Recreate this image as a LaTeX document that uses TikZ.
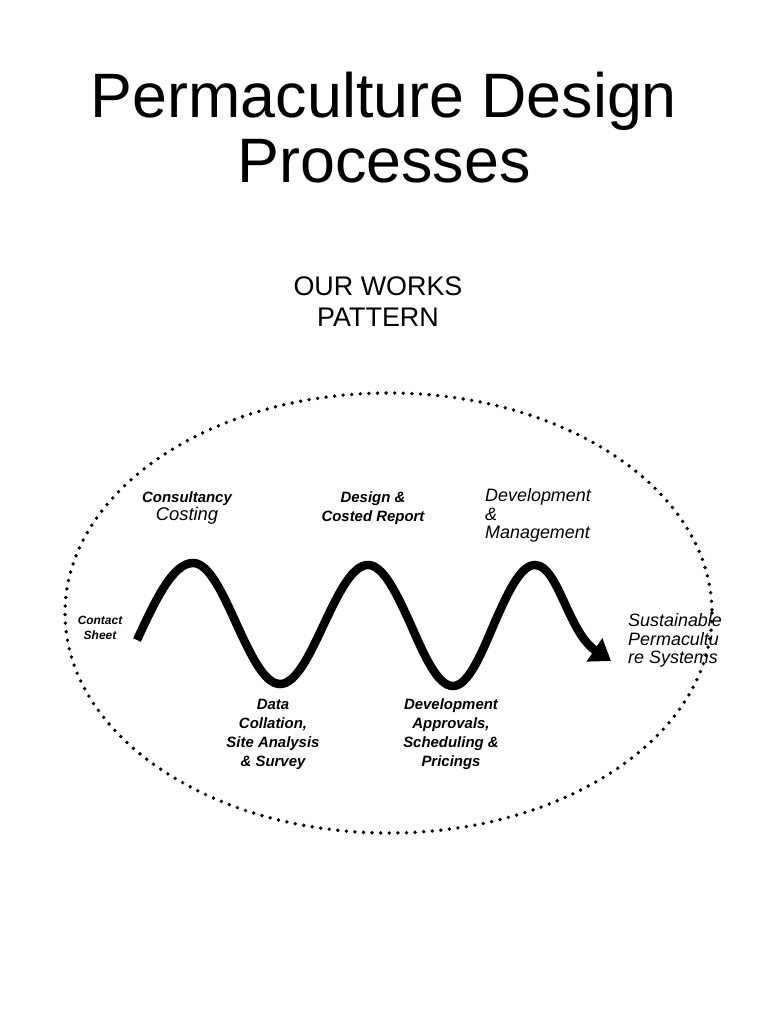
\documentclass[tikz,border=0pt]{standalone}
\usepackage{fontspec}
\setmainfont{Liberation Sans}
\usetikzlibrary{arrows.meta}

\tikzset{
    heading/.style={inner sep=0pt, align=center},
    stage/.style={inner sep=0pt, align=center, font=\bfseries\itshape\fontsize{15}{19}\selectfont},
    plainstage/.style={inner sep=0pt, align=left, font=\itshape\fontsize{18}{18.5}\selectfont},
}

\begin{document}
\begin{tikzpicture}[x=1bp, y=-1bp]
            \useasboundingbox (0,0) rectangle (768,1024);
            % titles
            \node[heading, font=\fontsize{63}{66}\selectfont] (title) at (384,127.5) {Permaculture Design\\Processes};
            \node[heading, font=\fontsize{27}{31}\selectfont] (pattern) at (378,302) {OUR WORKS\\PATTERN};
            % dotted boundary
            \draw[line width=3.8bp, line cap=round, dash pattern=on 0pt off 8.6bp] (388.5,613) ellipse (323.5 and 220);
            % the wave
            \coordinate (wavestart) at (137,640);
            \coordinate (waveend) at (611,661);
            \draw[line width=8.5bp, -{Triangle[length=20bp, width=27bp]}] (wavestart)
                sin (193,563) cos (236.5,624) sin (280,684) cos (324,624)
                sin (368,565) cos (410.5,624) sin (453,686) cos (494,624)
                sin (535,565) .. controls (558,565) and (568,632) .. (waveend);
            % stages above
            \node[stage] (consult) at (187,508) {Consultancy\\{\mdseries\fontsize{18.5}{19}\selectfont Costing}};
            \node[stage] (design) at (373,508.5) {Design \&\\Costed Report};
            \node[plainstage, anchor=west] (manage) at (485,515.5) {Development\\\&\\Management};
            % stages below
            \node[stage] (data) at (273,734.5) {Data\\Collation,\\Site Analysis\\\& Survey};
            \node[stage] (approve) at (451,734.5) {Development\\Approvals,\\Scheduling \&\\Pricings};
            % ends
            \node[stage, font=\bfseries\itshape\fontsize{12}{15}\selectfont] (contact) at (100,628) {Contact\\Sheet};
            \node[plainstage, anchor=west] (systems) at (628,640.5) {Sustainable\\Permacultu\\re Systems};
        \end{tikzpicture}
\end{document}
